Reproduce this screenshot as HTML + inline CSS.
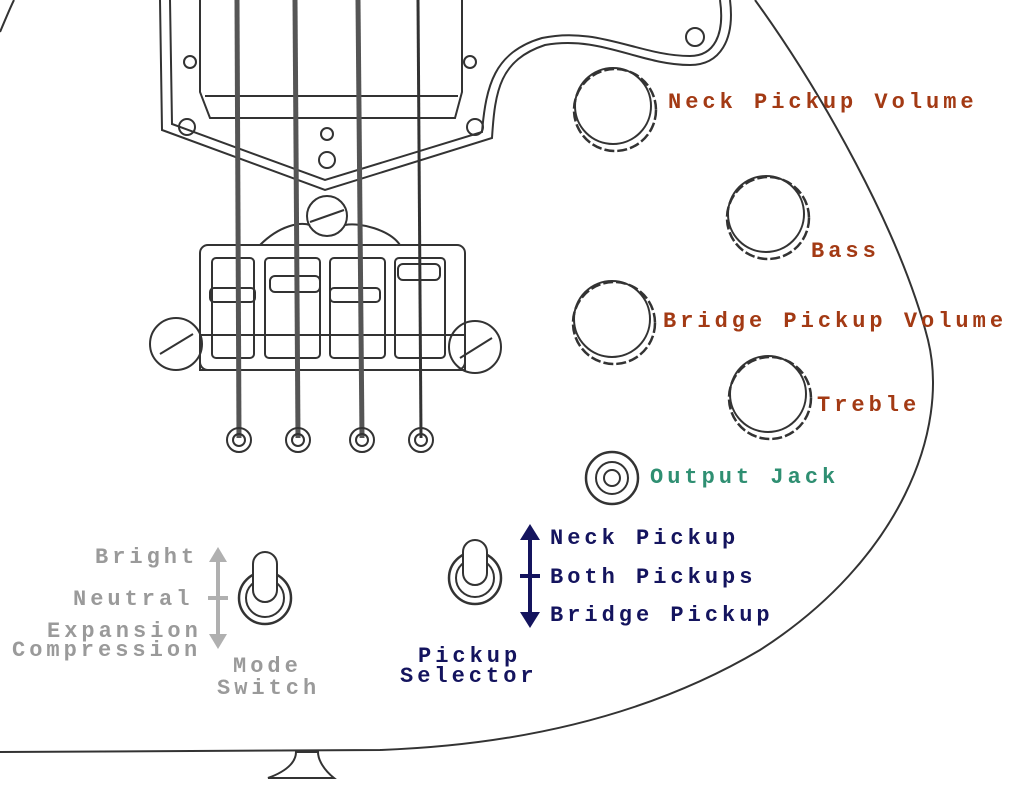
<!DOCTYPE html>
<html><head><meta charset="utf-8"><style>
html,body{margin:0;padding:0;background:#fff;}
svg{display:block}
text{font-family:"Liberation Mono",monospace;font-weight:bold;font-size:22px;letter-spacing:4px;}
.br{fill:#a33a14}.gr{fill:#2f8f72}.nv{fill:#14145e}.gy{fill:#9a9a9a}
</style></head><body>
<svg width="1024" height="798" viewBox="0 0 1024 798" xmlns="http://www.w3.org/2000/svg">
<g fill="none" stroke="#333" stroke-width="2">
<!-- body outline -->
<path d="M755,0 C820,90 900,230 928,340 C950,430 900,560 760,650 C650,715 520,745 380,750 L0,752"/>
<path d="M0,32 C6,18 10,8 14,0"/>
<!-- bottom strap button -->
<path d="M268,778 C290,770 296,760 296,752 L318,752 C318,760 324,770 334,778 Z"/>
<!-- pickguard -->
<path d="M160,0 L162,130 L325,190 L492,138 C495,90 500,60 545,45 C600,35 640,65 690,65 C720,65 735,40 730,0"/>
<path d="M170,0 L172,124 L325,180 L482,132 C486,86 494,52 542,38 C598,26 640,56 690,56 C714,56 725,35 720,0"/>
<circle cx="695" cy="37" r="9"/>
<!-- pickup -->
<path d="M200,0 L200,92 L210,118 L455,118 L462,92 L462,0"/>
<line x1="205" y1="96" x2="458" y2="96"/>
<circle cx="190" cy="62" r="6"/><circle cx="470" cy="62" r="6"/>
<circle cx="187" cy="127" r="8"/><circle cx="475" cy="127" r="8"/>
<circle cx="327" cy="134" r="6"/><circle cx="327" cy="160" r="8"/>
<!-- bridge -->
<circle cx="327" cy="216" r="20"/><line x1="310" y1="222" x2="344" y2="210"/>
<path d="M260,245 C280,225 300,222 310,225"/><path d="M345,225 C360,222 390,230 400,245"/>
<rect x="200" y="245" width="265" height="125" rx="8"/>
<rect x="212" y="258" width="42" height="100" rx="4"/>
<rect x="265" y="258" width="55" height="100" rx="4"/>
<rect x="330" y="258" width="55" height="100" rx="4"/>
<rect x="395" y="258" width="50" height="100" rx="4"/>
<rect x="210" y="288" width="45" height="14" rx="4"/>
<rect x="270" y="276" width="50" height="16" rx="5"/>
<rect x="330" y="288" width="50" height="14" rx="4"/>
<rect x="398" y="264" width="42" height="16" rx="5"/>
<rect x="200" y="335" width="265" height="35"/>
<circle cx="176" cy="344" r="26"/><line x1="160" y1="354" x2="193" y2="334"/>
<circle cx="475" cy="347" r="26"/><line x1="460" y1="358" x2="492" y2="338"/>
<!-- strings -->
<g stroke-width="5" stroke="#555"><line x1="237" y1="0" x2="239" y2="438"/><line x1="295" y1="0" x2="298" y2="438"/><line x1="358" y1="0" x2="362" y2="438"/></g>
<line x1="418" y1="0" x2="421" y2="438" stroke-width="3"/>
<g><circle cx="239" cy="440" r="12"/><circle cx="298" cy="440" r="12"/><circle cx="362" cy="440" r="12"/><circle cx="421" cy="440" r="12"/>
<circle cx="239" cy="440" r="6"/><circle cx="298" cy="440" r="6"/><circle cx="362" cy="440" r="6"/><circle cx="421" cy="440" r="6"/></g>
<!-- knobs -->
<g stroke-width="2.5" stroke-dasharray="10,3">
<circle cx="615" cy="110" r="41"/><circle cx="768" cy="218" r="41"/>
<circle cx="614" cy="323" r="41"/><circle cx="770" cy="398" r="41"/></g>
<g><circle cx="613" cy="106" r="38"/><circle cx="766" cy="214" r="38"/><circle cx="612" cy="319" r="38"/><circle cx="768" cy="394" r="38"/></g>
<!-- output jack -->
<circle cx="612" cy="478" r="26" stroke-width="2.5"/><circle cx="612" cy="478" r="16"/><circle cx="612" cy="478" r="8"/>
<!-- toggles -->
<circle cx="265" cy="598" r="26" stroke-width="2.5"/><circle cx="265" cy="598" r="19"/>
<rect x="253" y="552" width="24" height="50" rx="12" fill="#fff"/>
<circle cx="475" cy="578" r="26" stroke-width="2.5"/><circle cx="475" cy="578" r="19"/>
<rect x="463" y="540" width="24" height="45" rx="12" fill="#fff"/>
</g>
<!-- arrows -->
<g stroke="#14145e" stroke-width="4" fill="#14145e">
<line x1="530" y1="535" x2="530" y2="618"/><line x1="520" y1="576" x2="540" y2="576"/>
<polygon points="520,540 530,524 540,540" stroke="none"/><polygon points="520,612 530,628 540,612" stroke="none"/></g>
<g stroke="#b0b0b0" stroke-width="4" fill="#b0b0b0">
<line x1="218" y1="558" x2="218" y2="638"/><line x1="208" y1="598" x2="228" y2="598"/>
<polygon points="209,562 218,547 227,562" stroke="none"/><polygon points="209,634 218,649 227,634" stroke="none"/></g>
<!-- labels -->
<text x="668" y="108" class="br">Neck Pickup Volume</text>
<text x="811" y="257" class="br">Bass</text>
<text x="663" y="327" class="br">Bridge Pickup Volume</text>
<text x="817" y="411" class="br">Treble</text>
<text x="650" y="483" class="gr">Output Jack</text>
<text x="550" y="544" class="nv">Neck Pickup</text>
<text x="550" y="583" class="nv">Both Pickups</text>
<text x="550" y="621" class="nv">Bridge Pickup</text>
<text x="418" y="662" class="nv">Pickup</text>
<text x="400" y="682" class="nv">Selector</text>
<text x="95" y="563" class="gy">Bright</text>
<text x="73" y="605" class="gy">Neutral</text>
<text x="47" y="637" class="gy">Expansion</text>
<text x="12" y="656" class="gy">Compression</text>
<text x="233" y="672" class="gy">Mode</text>
<text x="217" y="694" class="gy">Switch</text>
</svg>
</body></html>
